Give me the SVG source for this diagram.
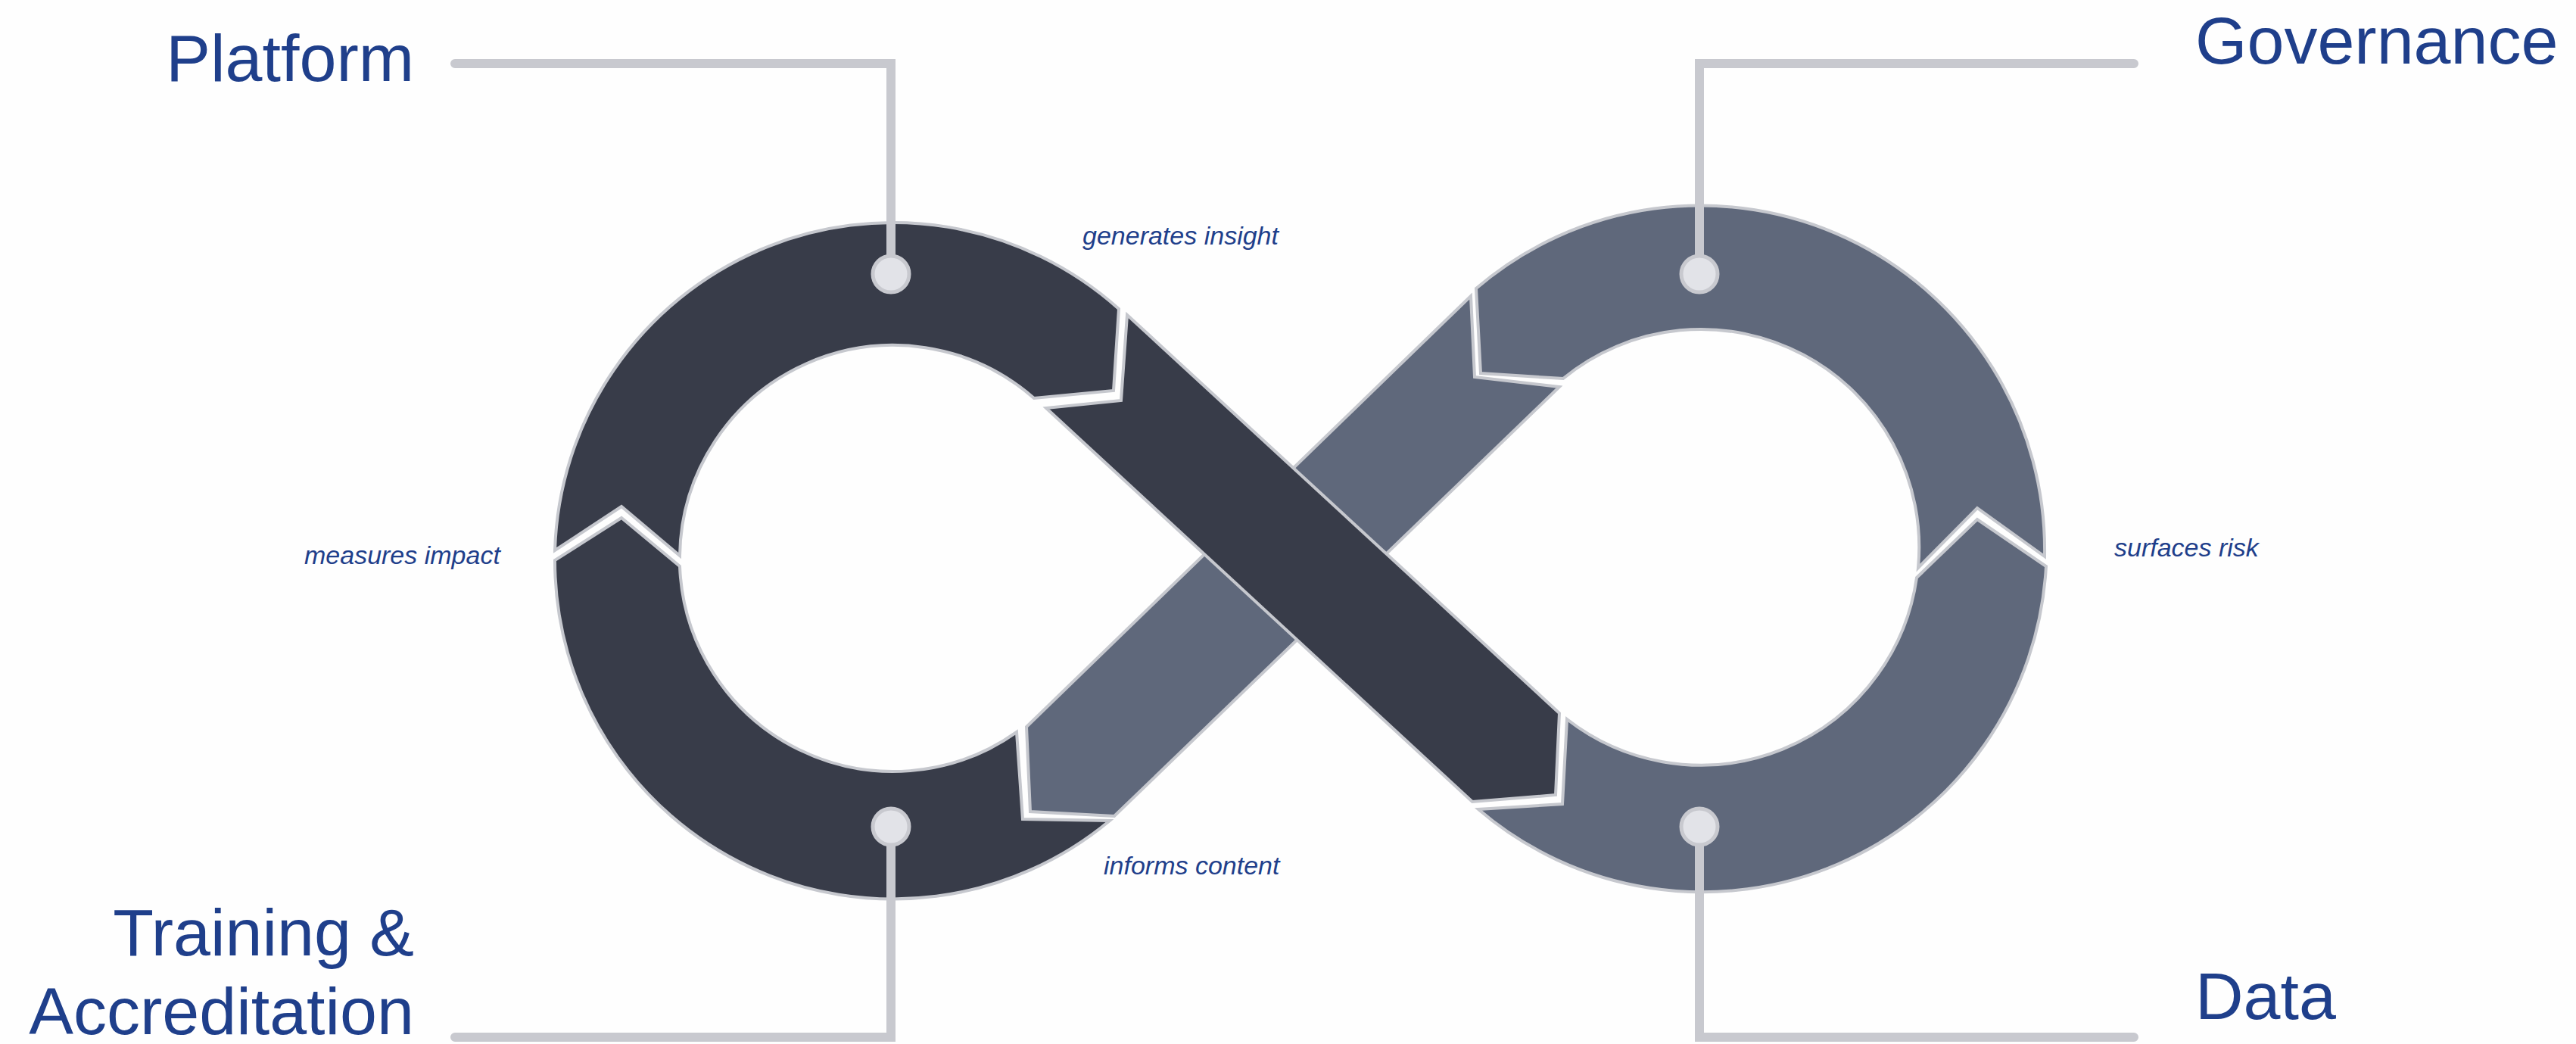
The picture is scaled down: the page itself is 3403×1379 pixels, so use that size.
<svg xmlns="http://www.w3.org/2000/svg" width="3403" height="1379" viewBox="0 0 3403 1379">
  <style>
    .bg { fill: #fefefe; }
    .dark { fill: #383c49; stroke: #c6c8ce; stroke-width: 4; stroke-linejoin: miter; }
    .slate { fill: #5f687b; stroke: #c6c8ce; stroke-width: 4; stroke-linejoin: miter; }
    .conn { fill: none; stroke: #c8c9cf; stroke-width: 12; stroke-linejoin: miter; stroke-linecap: round; }
    .dot { fill: #e2e3e8; stroke: #c8c9cf; stroke-width: 5; }
    .title { font-family: "Liberation Sans", Arial, sans-serif; font-size: 88px; fill: #1f3f8b; }
    .label { font-family: "Liberation Sans", Arial, sans-serif; font-size: 34px; font-style: italic; fill: #1f3f8b; }
  </style>
  <rect class="bg" x="0" y="0" width="3403" height="1379"/>

  <g id="loop">
    <path id="slate-diagonal" class="slate" d="M 1943,391 L 1948,498 L 2060,511 L 1472,1078 L 1361,1072 L 1356,960 Z"/>
    <path id="left-upper-arc" class="dark" d="M 733,727 A 447,447 0 0 1 1478,408 L 1471,516 L 1366,526 A 282,282 0 0 0 898,734 L 821,669 Z"/>
    <path id="left-lower-arc" class="dark" d="M 1343,967 L 1351,1082 L 1466,1084 A 447,447 0 0 1 733,740 L 821,684 L 898,748 A 282,282 0 0 0 1343,967 Z"/>
    <path id="right-lower-arc" class="slate" d="M 2070,950 L 2064,1062 L 1953,1069 A 455,455 0 0 0 2703,748 L 2612,686 L 2532,763 A 288,288 0 0 1 2070,950 Z"/>
    <path id="right-upper-arc" class="slate" d="M 2701,735 A 455,455 0 0 0 1950,381 L 1956,493 L 2065,500 A 288,288 0 0 1 2534,750 L 2612,671 Z"/>
    <path id="dark-diagonal" class="dark" d="M 1489,416 L 2060,942 L 2055,1050 L 1945,1059 L 1382,539 L 1481,529 Z"/>
  </g>

  <g id="connectors">
    <path class="conn" d="M 601,84 L 1177,84 L 1177,340"/>
    <path class="conn" d="M 2819,84 L 2245,84 L 2245,340"/>
    <path class="conn" d="M 1177,1114 L 1177,1370 L 601,1370"/>
    <path class="conn" d="M 2245,1114 L 2245,1370 L 2819,1370"/>
  </g>

  <g id="node-platform">
    <circle class="dot" cx="1177" cy="362" r="24"/>
    <text class="title" x="547" y="107" text-anchor="end">Platform</text>
  </g>
  <g id="node-governance">
    <circle class="dot" cx="2245" cy="362" r="24"/>
    <text class="title" x="2900" y="84">Governance</text>
  </g>
  <g id="node-training">
    <circle class="dot" cx="1177" cy="1092" r="24"/>
    <text class="title" text-anchor="end"><tspan x="547" y="1262">Training &amp;</tspan><tspan x="547" y="1366">Accreditation</tspan></text>
  </g>
  <g id="node-data">
    <circle class="dot" cx="2245" cy="1092" r="24"/>
    <text class="title" x="2900" y="1346">Data</text>
  </g>

  <g id="labels">
    <text class="label" x="1430" y="323">generates insight</text>
    <text class="label" x="402" y="745">measures impact</text>
    <text class="label" x="2793" y="735">surfaces risk</text>
    <text class="label" x="1458" y="1155">informs content</text>
  </g>
</svg>
